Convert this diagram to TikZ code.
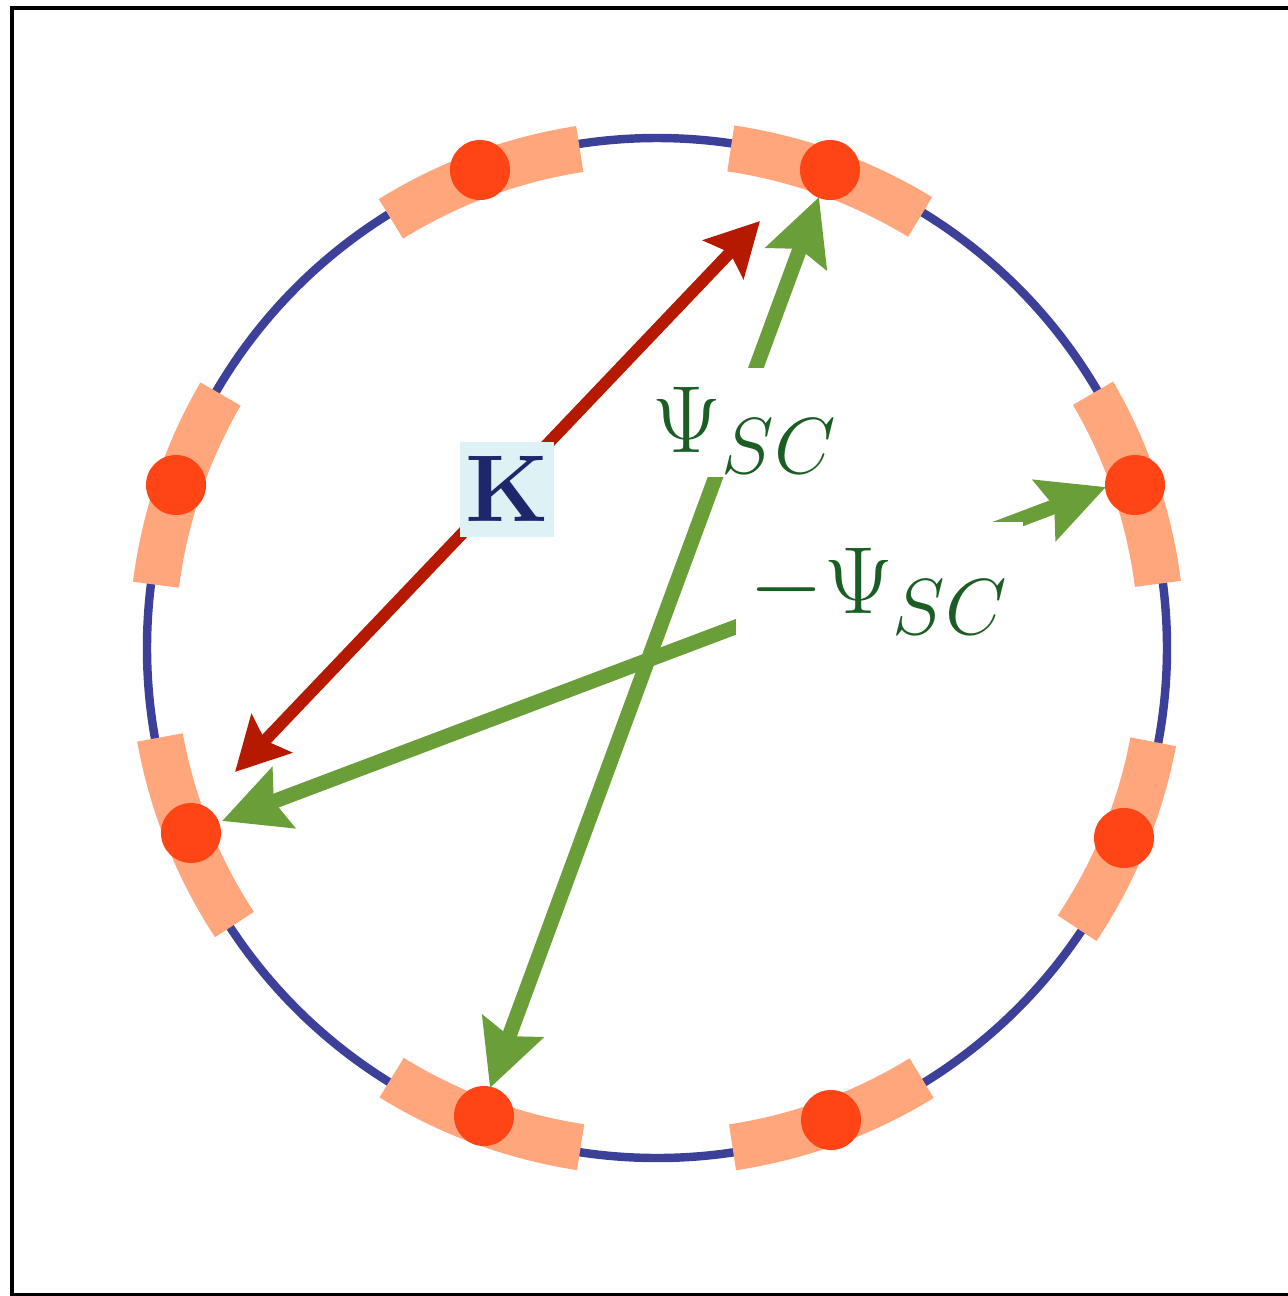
\documentclass[tikz,border=0pt]{standalone}
\usetikzlibrary{arrows.meta}
\definecolor{ringblue}{RGB}{60,64,152}
\definecolor{segorange}{RGB}{255,166,124}
\definecolor{dotred}{RGB}{255,68,22}
\definecolor{arrred}{RGB}{181,26,0}
\definecolor{arrgreen}{RGB}{106,158,56}
\definecolor{txtgreen}{RGB}{26,94,36}
\definecolor{knavy}{RGB}{30,38,108}
\definecolor{kbox}{RGB}{222,242,245}
\begin{document}
\begin{tikzpicture}[x=0.01cm,y=-0.01cm,
  frame/.style={draw=black,line width=1pt},
  ring/.style={draw=ringblue,line width=2.4pt},
  seg/.style={draw=segorange,line width=13.2pt},
  site/.style={circle,fill=dotred,minimum size=0.6cm,inner sep=0pt},
  redarrow/.style={draw=arrred,line width=3.4pt,>={Stealth[length=15pt,width=15.6pt,inset=2.6pt]},<->},
  greenarrow/.style={draw=arrgreen,line width=4.2pt,>={Stealth[length=18.5pt,width=18pt,inset=2.8pt]},<->},
  glabel/.style={text=txtgreen,fill=white,font=\Huge,scale=1.09,inner ysep=0pt,inner xsep=3.7pt,anchor=base west},
  klabel/.style={fill=kbox,text=knavy,minimum size=0.875cm,inner sep=0pt,font=\Huge,scale=1.085}
]
\useasboundingbox (0,0) rectangle (1288,1296);
% frame (right side lies outside the picture)
\draw[frame] (1300,8) -- (12,8) -- (12,1294.5) -- (1300,1294.5);

% ring
\coordinate (c) at (657,648);
\draw[ring] (c) circle[radius=510];

% orange segments
\foreach \a in {-110.3,-70.1,-18.8,22.2,69.9,110.2,158.3,-161.3}{
  \draw[seg] (c) ++(\a-11.5:505) arc[start angle=\a-11.5,end angle=\a+11.5,radius=505];
}

% sites
\node[site] (d1) at (480,170) {};
\node[site] (d2) at (830,170) {};
\node[site] (d3) at (1135,485) {};
\node[site] (d4) at (1124,838) {};
\node[site] (d5) at (831,1120) {};
\node[site] (d6) at (484,1116) {};
\node[site] (d7) at (191,833) {};
\node[site] (d8) at (176,485) {};

% arrow ends
\coordinate (rA) at (235,772);
\coordinate (rB) at (760,221);
\coordinate (gA) at (490,1088);
\coordinate (gB) at (819,197);
\coordinate (hA) at (222,821);
\coordinate (hB) at (1106,487);

\draw[redarrow] (rA) -- (rB);
\draw[greenarrow] (gA) -- (gB);
\draw[greenarrow] (hA) -- (hB);

% labels
\node[klabel] (k) at (507,489) {$\mathbf{K}$};
\node[glabel,text height=21.9pt,text depth=6.5pt] (psi) at (638,452) {$\Psi_{SC}$};
\node[glabel,text height=23.8pt,text depth=10.5pt] (mpsi) at (735,613) {$-\Psi_{SC}$};
\end{tikzpicture}
\end{document}
